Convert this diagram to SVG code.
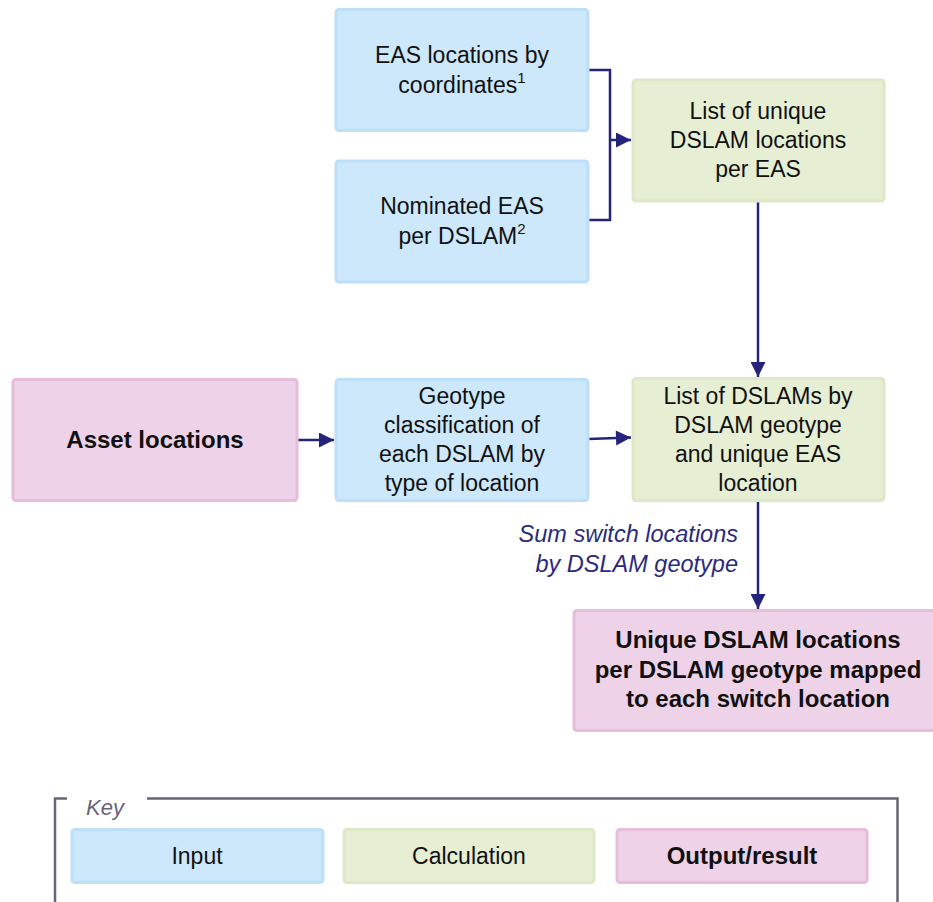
<svg xmlns="http://www.w3.org/2000/svg" width="933" height="902" viewBox="0 0 933 902">
  <style>
    .input { fill: #cde7fb; stroke: #bcdffa; stroke-width: 3; }
    .calc { fill: #e6eed4; stroke: #dce8c6; stroke-width: 3; }
    .output { fill: #eed3e8; stroke: #e6bedb; stroke-width: 3; }
    text { font-family: "Liberation Sans", Arial, sans-serif; fill: #111; text-anchor: middle; }
    .t { font-size: 23px; }
    .b { font-size: 24px; font-weight: bold; }
    .sup { font-size: 15px; }
    .lbl { font-size: 23.5px; font-style: italic; fill: #2b2a7c; text-anchor: end; }
    .key { font-size: 22px; font-style: italic; fill: #6b6478; text-anchor: start; }
    .edge { fill: none; stroke: #25247a; stroke-width: 2.5; }
    .frame { fill: none; stroke: #6b6478; stroke-width: 2.5; }
  </style>
  <defs>
    <marker id="arrow" viewBox="0 0 10 10" refX="10" refY="5" markerWidth="6.5" markerHeight="6" markerUnits="strokeWidth" orient="auto">
      <path d="M0,0 L10,5 L0,10 z" fill="#25247a"/>
    </marker>
  </defs>

  <!-- connectors -->
  <g id="connectors">
    <path class="edge" d="M588,70 H610 V220 H588"/>
    <path class="edge" d="M610,140 H631" marker-end="url(#arrow)"/>
    <path class="edge" d="M758,201 V377" marker-end="url(#arrow)"/>
    <path class="edge" d="M297,440 H334" marker-end="url(#arrow)"/>
    <path class="edge" d="M588,439 L631,437.5" marker-end="url(#arrow)"/>
    <path class="edge" d="M758,501 V609" marker-end="url(#arrow)"/>
    <text class="lbl" x="738" y="542">Sum switch locations</text>
    <text class="lbl" x="738" y="572">by DSLAM geotype</text>
  </g>

  <g id="eas-locations">
    <rect class="input" x="336" y="9.5" width="252" height="121" rx="3"/>
    <text class="t" x="462" y="63">EAS locations by</text>
    <text class="t" x="462" y="93">coordinates<tspan class="sup" dy="-10">1</tspan></text>
  </g>

  <g id="nominated-eas">
    <rect class="input" x="336" y="161" width="252" height="121" rx="3"/>
    <text class="t" x="462" y="214">Nominated EAS</text>
    <text class="t" x="462" y="244">per DSLAM<tspan class="sup" dy="-10">2</tspan></text>
  </g>

  <g id="unique-dslam-per-eas">
    <rect class="calc" x="633" y="80" width="251" height="121" rx="3"/>
    <text class="t" x="758" y="119">List of unique</text>
    <text class="t" x="758" y="148">DSLAM locations</text>
    <text class="t" x="758" y="177">per EAS</text>
  </g>

  <g id="asset-locations">
    <rect class="output" x="13" y="379.5" width="284" height="121" rx="3"/>
    <text class="b" x="155" y="448">Asset locations</text>
  </g>

  <g id="geotype-classification">
    <rect class="input" x="336" y="379.5" width="252" height="121" rx="3"/>
    <text class="t" x="462" y="404">Geotype</text>
    <text class="t" x="462" y="433">classification of</text>
    <text class="t" x="462" y="462">each DSLAM by</text>
    <text class="t" x="462" y="491">type of location</text>
  </g>

  <g id="dslams-by-geotype">
    <rect class="calc" x="633" y="378.5" width="251" height="122" rx="3"/>
    <text class="t" x="758" y="404">List of DSLAMs by</text>
    <text class="t" x="758" y="433">DSLAM geotype</text>
    <text class="t" x="758" y="462">and unique EAS</text>
    <text class="t" x="758" y="491">location</text>
  </g>

  <g id="switch-location-mapping">
    <rect class="output" x="574" y="610.5" width="365" height="120" rx="3"/>
    <text class="b" x="758" y="648">Unique DSLAM locations</text>
    <text class="b" x="758" y="678">per DSLAM geotype mapped</text>
    <text class="b" x="758" y="707">to each switch location</text>
  </g>

  <!-- legend -->
  <g id="key">
    <path class="frame" d="M67,798.5 H55 V905 M147,798.5 H897.5 V905"/>
    <text class="key" x="86" y="815">Key</text>
    <rect class="input" x="72" y="829.5" width="251" height="53" rx="3"/>
    <text class="t" x="197" y="864">Input</text>
    <rect class="calc" x="344" y="829.5" width="250" height="53" rx="3"/>
    <text class="t" x="469" y="864">Calculation</text>
    <rect class="output" x="617" y="829.5" width="250" height="53" rx="3"/>
    <text class="b" x="742" y="864">Output/result</text>
  </g>
</svg>
